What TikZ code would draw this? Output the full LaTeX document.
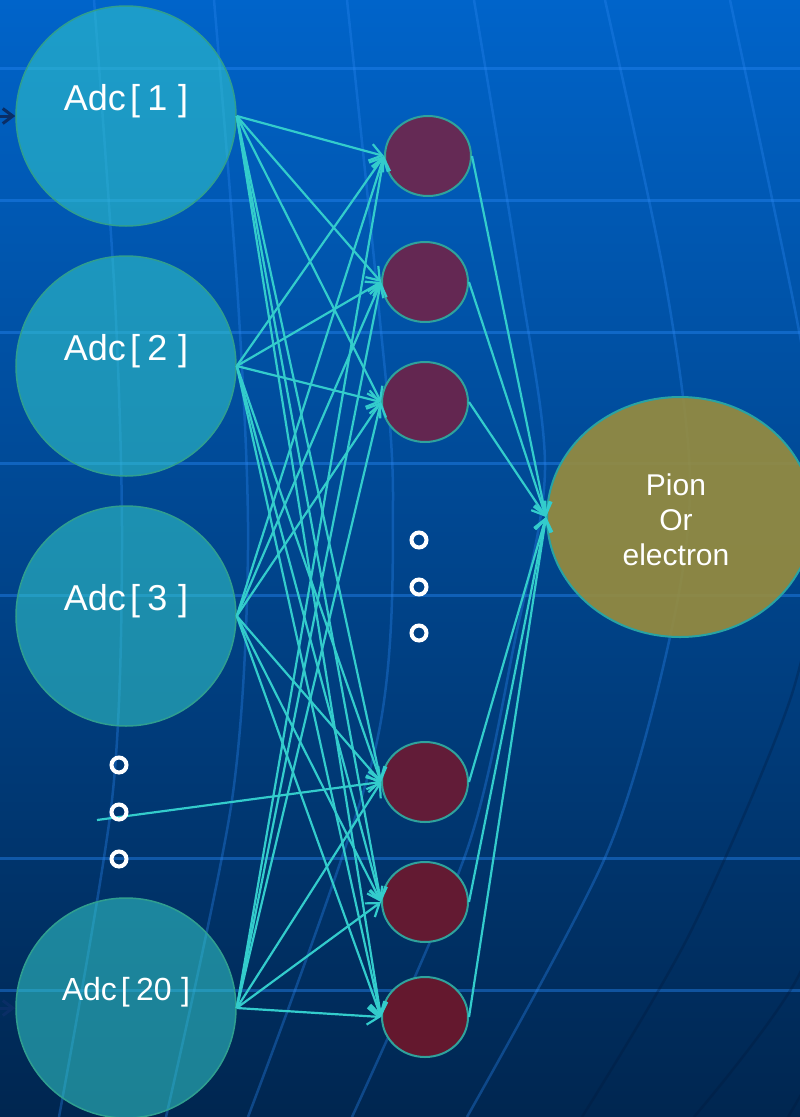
\documentclass[tikz,border=0pt]{standalone}
\usepackage{fontspec}
\setmainfont{Liberation Sans}
\usetikzlibrary{arrows.meta,shapes.geometric}

\definecolor{bgtop}{HTML}{0064CA}
\definecolor{bgmid}{HTML}{00488E}
\definecolor{bgbot}{HTML}{002650}
\definecolor{gridln}{HTML}{2484F0}
\definecolor{merlight}{HTML}{2A86F0}
\definecolor{merdark}{HTML}{00183A}
\definecolor{wire}{HTML}{33CCCC}
\definecolor{adcfill}{HTML}{33CCCC}
\definecolor{adcedge}{HTML}{2F9E8F}
\definecolor{hidedge}{HTML}{2FA39C}
\definecolor{hidA}{HTML}{652A55}
\definecolor{hidB}{HTML}{642853}
\definecolor{hidC}{HTML}{632650}
\definecolor{hidD}{HTML}{621C38}
\definecolor{hidE}{HTML}{631A32}
\definecolor{hidF}{HTML}{64182E}
\definecolor{outfill}{HTML}{998D3D}
\definecolor{inarrow}{HTML}{0A2E66}

% spaced bracket label used inside the input units
\newcommand\adclabel[1]{Adc\kern.12em[\kern.2em#1\kern.3em]}

\begin{document}
\begin{tikzpicture}[x=1pt,y=-1pt,
  adc/.style={circle, minimum size=220pt, inner sep=0pt, draw=adcedge,
    line width=1.5pt, fill=adcfill, fill opacity=0.55},
  hid/.style={ellipse, minimum width=86pt, minimum height=80pt, inner sep=0pt,
    draw=hidedge, line width=2pt},
  outn/.style={ellipse, minimum width=266pt, minimum height=240pt, inner sep=0pt,
    draw=wire!80!black, line width=2pt, fill=outfill, fill opacity=0.9},
  lbl/.style={text=white, font=\fontsize{36}{40}\selectfont, inner sep=0pt, anchor=base},
  lblsmall/.style={lbl, font=\fontsize{32}{36}\selectfont},
  outtxt/.style={text=white, font=\fontsize{30}{35}\selectfont, align=center, inner sep=0pt},
  wirearrow/.style={draw=wire, line width=2.2pt, -{Straight Barb[length=12pt,width=17pt]}},
  inarr/.style={draw=inarrow, line width=3pt, -{Straight Barb[length=10pt,width=15pt]}},
  dotring/.style={circle, draw=white, line width=4pt, minimum size=15pt, inner sep=0pt},
  gridline/.style={draw=gridln, line width=3pt, opacity=0.45},
  meridian/.style={draw=merlight, line width=2.5pt, opacity=0.35},
  meridiandark/.style={draw=merdark, line width=2.5pt, opacity=0.3}
]
\useasboundingbox (0,0) rectangle (800,1117);
\clip (0,0) rectangle (800,1117);

% backdrop
\shade[top color=bgtop, middle color=bgmid, bottom color=bgbot] (0,0) rectangle (800,1117);
\foreach \yy in {68,200,332,463,595,858,990}
  \draw[gridline] (0,\yy) -- (800,\yy);

% globe meridians
\draw[meridian] plot[smooth] coordinates {(94,0) (115,300) (122,550) (112,800) (59,1117)};
\draw[meridian] plot[smooth] coordinates {(214,0) (238,300) (248,550) (232,800) (166,1117)};
\draw[meridian] plot[smooth] coordinates {(347,0) (378,300) (393,500) (375,750) (248,1117)};
\draw[meridian] plot[smooth] coordinates {(474,0) (520,280) (545,470) (515,640) (467,850) (352,1117)};
\draw[meridian] plot[smooth] coordinates {(605,0) (665,280) (690,480) (670,637) (607,853) (467,1117)};
\draw[meridian] plot[smooth] coordinates {(730,0) (793,300) (830,500)};
\draw[meridiandark] plot[smooth] coordinates {(830,520) (790,700) (690,933) (582,1117)};
\draw[meridiandark] plot[smooth] coordinates {(860,780) (800,973) (694,1117)};
\draw[meridiandark] plot[smooth] coordinates {(880,960) (788,1117)};

% input units
\node[adc] (a1) at (126,116) {};
\node[adc] (a2) at (126,366) {};
\node[adc] (a3) at (126,616) {};
\node[adc] (a20) at (126,1008) {};
\node[lbl] (t1) at ([yshift=6pt]a1.center) {\adclabel{1}};
\node[lbl] (t2) at ([yshift=6pt]a2.center) {\adclabel{2}};
\node[lbl] (t3) at ([yshift=6pt]a3.center) {\adclabel{3}};
\node[lblsmall] (t20) at ([yshift=8pt]a20.center) {\adclabel{20}};

% hidden units
\node[hid, fill=hidA] (h1) at (428,156) {};
\node[hid, fill=hidB] (h2) at (425,282) {};
\node[hid, fill=hidC] (h3) at (425,402) {};
\node[hid, fill=hidD] (h4) at (425,782) {};
\node[hid, fill=hidE] (h5) at (425,902) {};
\node[hid, fill=hidF] (h6) at (425,1017) {};

% output unit
\node[outn] (out) at (680,517) {};
\node[outtxt] (outlbl) at (676,520) {Pion\\Or\\electron};

% feeds into the first and last inputs
\coordinate (in1) at (-10,116);
\coordinate (in20) at (-10,1008);
\draw[inarr] (in1) -- (a1.west);
\draw[inarr] (in20) -- (a20.west);

% input -> hidden
\foreach \a in {a1,a2,a3,a20}
  \foreach \h in {h1,h2,h3,h4,h5,h6}
    \draw[wirearrow] (\a.east) -- (\h.west);
\coordinate (dd) at (97,820);
\draw[wirearrow] (dd) -- (h4.west);

% hidden -> output
\foreach \h in {h1,h2,h3,h4,h5,h6}
  \draw[wirearrow] (\h.east) -- (out.west);

% ellipsis rings
\node[dotring] (d1) at (119,765) {};
\node[dotring] (d2) at (119,812) {};
\node[dotring] (d3) at (119,859) {};
\node[dotring] (e1) at (419,540) {};
\node[dotring] (e2) at (419,587) {};
\node[dotring] (e3) at (419,633) {};
\end{tikzpicture}
\end{document}
